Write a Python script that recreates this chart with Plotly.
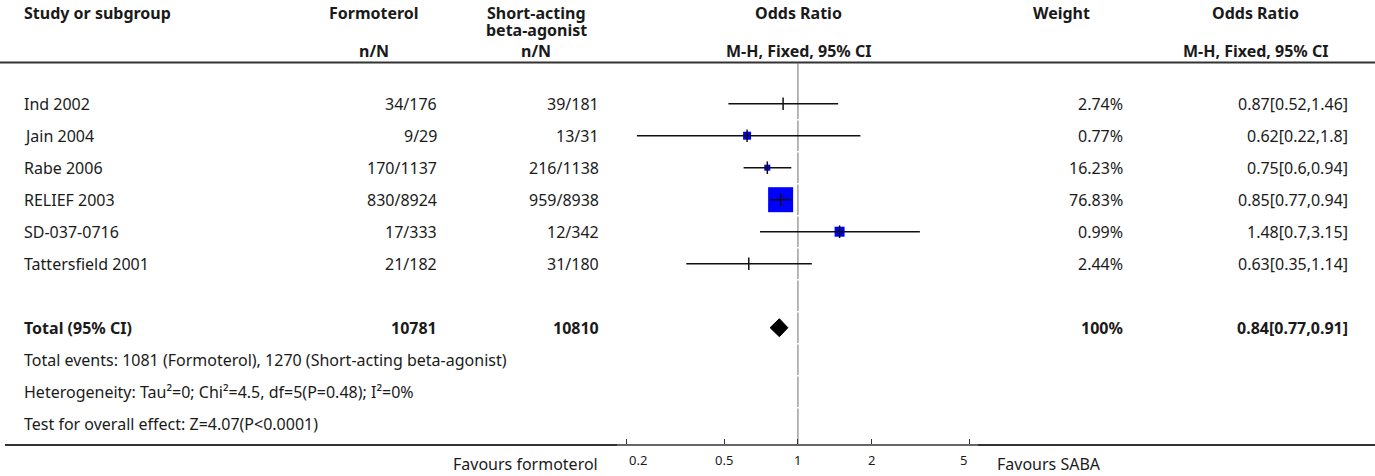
import math
import plotly.graph_objects as go

# ---------------- data ----------------
studies = ["Ind 2002", "Jain 2004", "Rabe 2006", "RELIEF 2003", "SD-037-0716", "Tattersfield 2001"]
form_nN = ["34/176", "9/29", "170/1137", "830/8924", "17/333", "21/182"]
saba_nN = ["39/181", "13/31", "216/1138", "959/8938", "12/342", "31/180"]
or_est = [0.87, 0.62, 0.75, 0.85, 1.48, 0.63]
ci_lo = [0.52, 0.22, 0.60, 0.77, 0.70, 0.35]
ci_hi = [1.46, 1.80, 0.94, 0.94, 3.15, 1.14]
weights = ["2.74%", "0.77%", "16.23%", "76.83%", "0.99%", "2.44%"]
or_text = ["0.87[0.52,1.46]", "0.62[0.22,1.8]", "0.75[0.6,0.94]",
           "0.85[0.77,0.94]", "1.48[0.7,3.15]", "0.63[0.35,1.14]"]

total_label = "Total (95% CI)"
total_form = "10781"
total_saba = "10810"
total_weight = "100%"
total_or = 0.84
total_lo = 0.77
total_hi = 0.91
total_or_text = "0.84[0.77,0.91]"

footnotes = [
    "Total events: 1081 (Formoterol), 1270 (Short-acting beta-agonist)",
    "Heterogeneity: Tau\u00b2=0; Chi\u00b2=4.5, df=5(P=0.48); I\u00b2=0%",
    "Test for overall effect: Z=4.07(P<0.0001)",
]

tick_vals = [0.2, 0.5, 1, 2, 5]
tick_labels = ["0.2", "0.5", "1", "2", "5"]
favours_left = "Favours formoterol"
favours_right = "Favours SABA"

# ---------------- style / layout ----------------
W, H = 1375, 476
FONT = "Noto Sans"
TXT = "#1a1a1a"
FS = 16
box_px = [0, 8, 6, 25, 10, 0]          # drawn square sizes (px)

ROW0_PX = 103.7                         # pixel centre of first study row
ROW_PX = 32.0                           # row pitch
AXIS_PX = 445                           # x-axis line pixel row
HEADER_LINE_PX = 62.5
PX_PER_DEC = 244.8
ONE_PX = 797.9
AX_L_PX, AX_R_PX = 617, 978             # extent of the scale segment


def px_to_row(p):
    return (p - ROW0_PX) / ROW_PX


def ypaper(p):
    return 1 - p / H


study_rows = list(range(len(studies)))
total_row = len(studies) + 1
foot_rows = [total_row + 1 + i for i in range(len(footnotes))]

fig = go.Figure()

# null line, broken at row borders like the table it sits in
gap = 0.8 / ROW_PX
nx, ny = [], []
edges = [px_to_row(HEADER_LINE_PX + 1)] + [k + 0.5 for k in range(foot_rows[-1])] + [px_to_row(AXIS_PX)]
for i in range(len(edges) - 1):
    a = edges[i] + (gap if i > 0 else 0)
    b = edges[i + 1] - (gap if i + 1 < len(edges) - 1 else 0)
    nx += [1, 1, None]
    ny += [a, b, None]
fig.add_trace(go.Scatter(x=nx, y=ny, mode="lines", line=dict(color="#a6a6a6", width=1.6),
                         hoverinfo="skip", showlegend=False))

# weight squares
fig.add_trace(go.Scatter(
    x=or_est, y=study_rows, mode="markers",
    marker=dict(symbol="square", size=box_px, color="#0000ff", opacity=1, line=dict(width=0)),
    hoverinfo="skip", showlegend=False))

# confidence intervals
cx, cy = [], []
for lo, hi, r in zip(ci_lo, ci_hi, study_rows):
    cx += [lo, hi, None]
    cy += [r, r, None]
fig.add_trace(go.Scatter(x=cx, y=cy, mode="lines", line=dict(color="#111", width=1.5),
                         hoverinfo="skip", showlegend=False))

# point-estimate ticks
fig.add_trace(go.Scatter(
    x=or_est, y=study_rows, mode="markers",
    marker=dict(symbol="line-ns", size=9, opacity=1, line=dict(color="#111", width=1.5)),
    hoverinfo="skip", showlegend=False))

# pooled diamond
hh = 9 / ROW_PX
fig.add_trace(go.Scatter(
    x=[total_lo, total_or, total_hi, total_or, total_lo],
    y=[total_row, total_row - hh, total_row, total_row + hh, total_row],
    mode="lines", fill="toself", fillcolor="#000", line=dict(color="#000", width=1),
    hoverinfo="skip", showlegend=False))

ann = []


def txt(x_px, y, s, anchor="left", bold=False, yref="y", size=FS):
    ann.append(dict(x=x_px / W, xref="paper", y=y, yref=yref, text=("<b>%s</b>" % s) if bold else s,
                    showarrow=False, xanchor=anchor, yanchor="middle",
                    font=dict(family=FONT, size=size, color=TXT)))


# headers
H1, H2, H3 = 13, 29.5, 51
txt(22, ypaper(H1), "Study or subgroup", bold=True, yref="paper")
txt(374, ypaper(H1), "Formoterol", "center", True, "paper")
txt(536, ypaper(H1), "Short-acting", "center", True, "paper")
txt(536, ypaper(H2), "beta-agonist", "center", True, "paper")
txt(798, ypaper(H1), "Odds Ratio", "center", True, "paper")
txt(1061, ypaper(H1), "Weight", "center", True, "paper")
txt(1255, ypaper(H1), "Odds Ratio", "center", True, "paper")
txt(374, ypaper(H3), "n/N", "center", True, "paper")
txt(536, ypaper(H3), "n/N", "center", True, "paper")
txt(798, ypaper(H3), "M-H, Fixed, 95% CI", "center", True, "paper")
txt(1255, ypaper(H3), "M-H, Fixed, 95% CI", "center", True, "paper")

# study rows
for i, r in enumerate(study_rows):
    txt(22, r, studies[i])
    txt(439, r, form_nN[i], "right")
    txt(601, r, saba_nN[i], "right")
    txt(1125, r, weights[i], "right")
    txt(1350, r, or_text[i], "right")

# total row
txt(22, total_row, total_label, bold=True)
txt(439, total_row, total_form, "right", True)
txt(601, total_row, total_saba, "right", True)
txt(1125, total_row, total_weight, "right", True)
txt(1350, total_row, total_or_text, "right", True)

for r, s in zip(foot_rows, footnotes):
    txt(22, r, s)

# axis tick labels
for i, (v, lab) in enumerate(zip(tick_vals, tick_labels)):
    anchor = "left" if i == 0 else ("right" if i == len(tick_vals) - 1 else "center")
    ann.append(dict(x=math.log10(v), xref="x", y=ypaper(460), yref="paper", text=lab,
                    showarrow=False, xanchor=anchor, yanchor="middle",
                    font=dict(family=FONT, size=13, color=TXT)))
txt(600, ypaper(464), favours_left, "right", yref="paper")
txt(995, ypaper(464), favours_right, "left", yref="paper")

shapes = [
    dict(type="line", xref="paper", yref="paper", x0=0, x1=1,
         y0=ypaper(HEADER_LINE_PX), y1=ypaper(HEADER_LINE_PX), line=dict(color="#333", width=2)),
    dict(type="line", xref="paper", yref="paper", x0=5 / W, x1=AX_L_PX / W,
         y0=ypaper(AXIS_PX), y1=ypaper(AXIS_PX), line=dict(color="#333", width=2)),
    dict(type="line", xref="paper", yref="paper", x0=AX_R_PX / W, x1=1,
         y0=ypaper(AXIS_PX), y1=ypaper(AXIS_PX), line=dict(color="#333", width=2)),
]

xr0 = (AX_L_PX - ONE_PX) / PX_PER_DEC
xr1 = (AX_R_PX - ONE_PX) / PX_PER_DEC

fig.update_layout(
    width=W, height=H, margin=dict(l=0, r=0, t=0, b=0),
    paper_bgcolor="white", plot_bgcolor="white",
    xaxis=dict(type="log", range=[xr0, xr1], domain=[AX_L_PX / W, AX_R_PX / W],
               anchor="free", position=ypaper(AXIS_PX),
               showline=True, linecolor="#666", linewidth=2,
               ticks="inside", ticklen=5, tickwidth=1, tickcolor="#333",
               tickvals=tick_vals, showticklabels=False,
               showgrid=False, zeroline=False, fixedrange=True),
    yaxis=dict(range=[px_to_row(H), px_to_row(0)], domain=[0, 1],
               visible=False, showgrid=False, zeroline=False, fixedrange=True),
    annotations=ann, shapes=shapes, showlegend=False,
)

fig.write_html("out.html", config={"displayModeBar": False},
               post_script="document.body.style.margin='0px';document.body.style.overflow='hidden';")
